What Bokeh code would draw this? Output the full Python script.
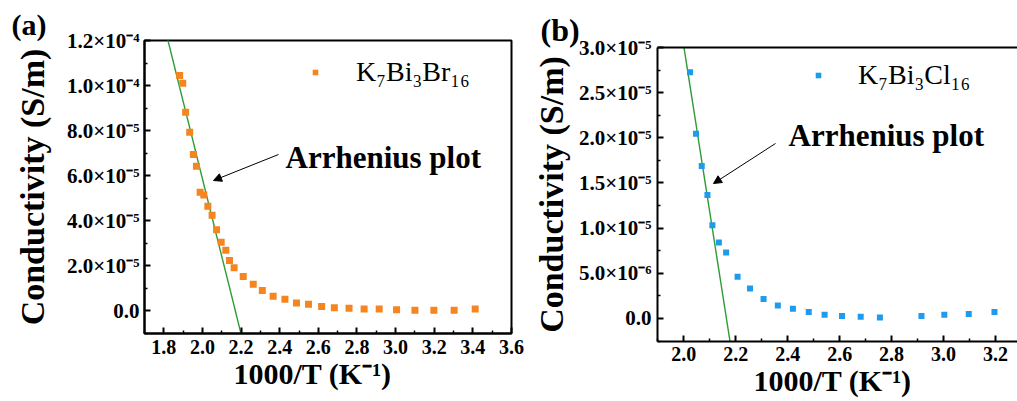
import numpy as np
from bokeh.plotting import figure
from bokeh.models import (FixedTicker, Range1d, Legend, LegendItem, Label,
                          Arrow, NormalHead, LinearAxis, Title)
from bokeh.layouts import row, column
from bokeh.embed import file_html
from bokeh.resources import INLINE

# ---------------- data: panel (a) K7Bi3Br16 ----------------
x_br = [1.882, 1.898, 1.913, 1.934, 1.953, 1.969, 1.988, 2.007, 2.028, 2.050,
        2.073, 2.097, 2.121, 2.140, 2.164, 2.211, 2.263, 2.310, 2.366, 2.427,
        2.487, 2.549, 2.617, 2.683, 2.759, 2.837, 2.915, 3.005, 3.100, 3.198,
        3.303, 3.412]
y_br = [1.044e-4, 1.010e-4, 8.81e-5, 7.92e-5, 6.93e-5, 6.41e-5, 5.26e-5, 5.14e-5,
        4.64e-5, 4.24e-5, 3.59e-5, 3.04e-5, 2.68e-5, 2.22e-5, 1.90e-5, 1.51e-5,
        1.17e-5, 8.9e-6, 6.4e-6, 5.0e-6, 3.4e-6, 2.8e-6, 1.8e-6, 1.2e-6,
        1.0e-6, 7e-7, 7e-7, 4e-7, 1e-7, 1e-7, 1e-7, 7e-7]
fit_br_x = [1.80, 2.23]
fit_br_y = [1.274e-4, -2.07e-5]

# ---------------- data: panel (b) K7Bi3Cl16 ----------------
x_cl = [2.024, 2.047, 2.069, 2.091, 2.110, 2.135, 2.163, 2.207, 2.255, 2.307,
        2.362, 2.420, 2.481, 2.542, 2.609, 2.681, 2.755, 2.915, 3.003, 3.097,
        3.196]
y_cl = [2.727e-5, 2.044e-5, 1.689e-5, 1.367e-5, 1.033e-5, 8.41e-6, 7.30e-6,
        4.63e-6, 3.33e-6, 2.16e-6, 1.44e-6, 1.08e-6, 7.1e-7, 4.1e-7, 2.7e-7,
        1.9e-7, 1.1e-7, 2.7e-7, 4.1e-7, 4.9e-7, 7.1e-7]
fit_cl_x = [1.98, 2.20]
fit_cl_y = [3.38e-5, -6.6e-6]

# ---------------- ticks / labels ----------------
xa_ticks = [1.8, 2.0, 2.2, 2.4, 2.6, 2.8, 3.0, 3.2, 3.4, 3.6]
xa_labels = ["1.8", "2.0", "2.2", "2.4", "2.6", "2.8", "3.0", "3.2", "3.4", "3.6"]
ya_ticks = [0.0, 2e-5, 4e-5, 6e-5, 8e-5, 1.0e-4, 1.2e-4]
ya_labels = ["0.0", "2.0×10⁻⁵", "4.0×10⁻⁵", "6.0×10⁻⁵", "8.0×10⁻⁵",
             "1.0×10⁻⁴", "1.2×10⁻⁴"]
xb_ticks = [2.0, 2.2, 2.4, 2.6, 2.8, 3.0, 3.2]
xb_labels = ["2.0", "2.2", "2.4", "2.6", "2.8", "3.0", "3.2"]
yb_ticks = [0.0, 5e-6, 1.0e-5, 1.5e-5, 2.0e-5, 2.5e-5, 3.0e-5]
yb_labels = ["0.0", "5.0×10⁻⁶", "1.0×10⁻⁵", "1.5×10⁻⁵", "2.0×10⁻⁵",
             "2.5×10⁻⁵", "3.0×10⁻⁵"]

label_br = "K₇Bi₃Br₁₆"
label_cl = "K₇Bi₃Cl₁₆"
x_title = "1000/T (K⁻¹)"
y_title = "Conductivity (S/m)"

ORANGE = "#F5851F"
BLUE = "#1E9BEA"
GREEN = "#2E9B36"
FONT = "Liberation Serif"


def minors(ticks):
    t = np.array(ticks, dtype=float)
    step = t[1] - t[0]
    m = np.concatenate([t - step / 2, [t[-1] + step / 2]])
    return [float(v) for v in m]


def style_axis(ax, ticks, labels, fsize):
    ax.ticker = FixedTicker(ticks=ticks, minor_ticks=minors(ticks))
    ax.major_label_overrides = {t: l for t, l in zip(ticks, labels)}
    ax.axis_line_width = 2
    ax.axis_line_color = "black"
    ax.major_tick_in = 6
    ax.major_tick_out = 0
    ax.minor_tick_in = 3
    ax.minor_tick_out = 0
    ax.major_tick_line_width = 2
    ax.minor_tick_line_width = 1.5
    ax.major_label_text_font = FONT
    ax.major_label_text_font_style = "bold"
    ax.major_label_text_font_size = fsize
    ax.major_label_text_color = "black"
    ax.axis_label_text_font = FONT
    ax.axis_label_text_font_style = "bold"
    ax.axis_label_text_color = "black"


def make_panel(x0, width, frame, xr, yr, xs, ys, fx, fy, color, msize,
               xt, xl, yt, yl, leg_label, tag, tag_x, tag_size,
               leg_px, leg_standoff,
               text_px, arrow_px, x_std, y_std, y_label_std, xlab_x, xlab_pad,
               outline):
    # frame edges given in page px; convert to figure-local
    fl, fr, ft, fb = frame[0] - x0, frame[1] - x0, frame[2], frame[3]
    p = figure(frame_width=fr - fl, frame_height=fb - ft,
               output_backend="svg", toolbar_location=None,
               x_range=Range1d(*xr), y_range=Range1d(*yr),
               min_border_left=fl, min_border_right=width - fr,
               min_border_top=ft, min_border_bottom=401 - fb)
    p.xgrid.visible = False
    p.ygrid.visible = False
    p.background_fill_color = "white"
    p.border_fill_color = "white"

    xa = p.below[0]
    ya = p.left[0]

    p.title.text = tag
    p.title.align = "left"
    p.title.offset = tag_x - x0 - fl
    p.title.standoff = 0
    p.title.text_font = FONT
    p.title.text_font_style = "bold"
    p.title.text_font_size = tag_size
    p.title.text_color = "black"

    if outline:
        p.outline_line_color = "black"
        p.outline_line_width = 2
    else:
        p.outline_line_color = None
        top = LinearAxis(ticker=FixedTicker(ticks=[]), major_label_text_font_size="0px",
                         axis_line_width=2, major_tick_in=0, major_tick_out=0,
                         minor_tick_in=0, minor_tick_out=0, major_label_standoff=0)
        p.add_layout(top, "above")

    def dx(px):
        return xr[0] + (px - x0 - fl) / (fr - fl) * (xr[1] - xr[0])

    def dy(py):
        return yr[0] + (fb - py) / (fb - ft) * (yr[1] - yr[0])

    p.line(fx, fy, line_color=GREEN, line_width=1.4)
    r = p.scatter(xs, ys, marker="square", size=msize, fill_color=color,
                  line_color=None)

    style_axis(xa, xt, xl, "20px")
    xa.major_label_standoff = x_std
    p.add_layout(Title(text=x_title, align="left", offset=xlab_x - x0 - fl,
                       standoff=xlab_pad, text_font=FONT, text_font_style="bold",
                       text_font_size="30px", text_color="black",
                       vertical_align="top"), "below")

    style_axis(ya, yt, yl, "21px")
    ya.axis_label = y_title
    ya.axis_label_text_font_size = "34px"
    ya.major_label_standoff = y_std
    ya.axis_label_standoff = y_label_std

    gw = 14
    leg = Legend(items=[LegendItem(label=leg_label, renderers=[r])],
                 location=(leg_px[0] - gw // 2 - x0 - fl, fb - leg_px[1]),
                 border_line_color=None, background_fill_alpha=0,
                 label_text_font=FONT, label_text_font_size="28px",
                 label_text_color="black",
                 glyph_width=gw, glyph_height=20,
                 label_standoff=leg_standoff, padding=0, margin=0, spacing=0)
    p.add_layout(leg)

    p.add_layout(Label(x=dx(text_px[0]), y=dy(text_px[1]), text="Arrhenius plot",
                       text_font=FONT, text_font_style="bold", text_font_size="31px",
                       text_baseline="alphabetic", text_color="black"))
    (tx, ty), (hx, hy) = arrow_px
    p.add_layout(Arrow(end=NormalHead(size=8, fill_color="black", line_color="black",
                                      line_width=1),
                       x_start=dx(tx), y_start=dy(ty), x_end=dx(hx), y_end=dy(hy),
                       line_color="black", line_width=1))
    return p


pa = make_panel(0, 525, (144, 511, 40, 333), (1.7, 3.6), (-1.02e-5, 1.2e-4),
                x_br, y_br, fit_br_x, fit_br_y, ORANGE, 7,
                xa_ticks, xa_labels, ya_ticks, ya_labels, label_br,
                "(a)", 11, "30px", (315, 88), 34,
                (285, 157), ((278, 154), (213, 180)), 6, 5, 13, 233, 0, True)

pb = make_panel(525, 492, (657, 1017, 47, 341), (1.8987, 3.2847), (-2.55e-6, 3.0e-5),
                x_cl, y_cl, fit_cl_x, fit_cl_y, BLUE, 6,
                xb_ticks, xb_labels, yb_ticks, yb_labels, label_cl,
                "(b)", 540, "32px", (818, 91), 33,
                (788, 135), ((775, 143), (713, 183)), 5, 6, 6, 753, 0,
                False)

layout = row(column(pa), column(pb))
open("out.html", "w").write(file_html(layout, INLINE))
